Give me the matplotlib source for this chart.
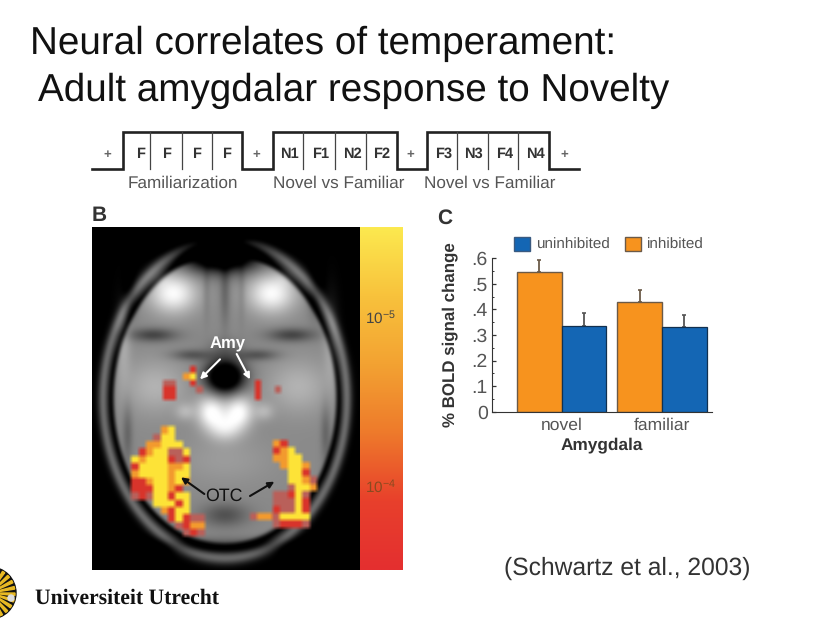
import numpy as np
import matplotlib
matplotlib.use('Agg')
import matplotlib.pyplot as plt
from matplotlib.colors import LinearSegmentedColormap, to_rgb
from matplotlib.patches import Patch, Wedge, Circle

plt.rcParams['font.family'] = ['Liberation Sans', 'DejaVu Sans']
plt.rcParams['mathtext.default'] = 'regular'
plt.rcParams['text.hinting'] = 'no_hinting'
plt.rcParams['text.hinting_factor'] = 8

# bar chart values
conditions = ['novel', 'familiar']
series_names = ['uninhibited', 'inhibited']
uninhibited = [0.335, 0.330]
inhibited = [0.545, 0.430]
uninhibited_err = [0.052, 0.048]
inhibited_err = [0.048, 0.046]
y_ticks = [0, 0.1, 0.2, 0.3, 0.4, 0.5, 0.6]
y_tick_labels = ['0', '.1', '.2', '.3', '.4', '.5', '.6']

# block design strip
block_labels = [['F', 'F', 'F', 'F'], ['N1', 'F1', 'N2', 'F2'], ['F3', 'N3', 'F4', 'N4']]
block_titles = ['Familiarization', 'Novel vs Familiar', 'Novel vs Familiar']

# activation cells: Y yellow, O orange, R red, D dim red
otc_left = ["....OY....", "...DYY....", "..OOYYY...", ".ROYYDDY..", "YOYYYRDR..",
            "RYYYYOOY..", "OYYYYOYY..", "RROYYOYO..", "RRRYYOR...", "DRDYYRYY..",
            "...YYYRY..", "....ORYY..", ".....RYRDD", "......DROO", ".......DRD"]
otc_right = ["OR....", "ROY...", "OOYY..", ".OYYO.", "..YYR.", "..YYOD",
             "..DYYO", "DDRYD.", "DDDYR.", "RDDYR.", "OYYYY.", "DRRRD."]
otc_low = ["DOOD"]
amy_left = ["....R.", "...OY.", "DD..R.", "RR...D", "RR...."]
amy_right = ["R...", "R..D", "R..."]
CELL_COLORS = {'Y': '#FDE338', 'O': '#F39A2E', 'R': '#D9342B', 'D': '#B9605A'}


def z(zx, zy):
    # brain zoom coords to figure pixels
    return 85 + zx / 3, 220 + zy / 3


def blob(X, Y, zx, zy, sx, sy, amp):
    cx, cy = z(zx, zy)
    return amp * np.exp(-((X - cx) / (sx / 3)) ** 2 - ((Y - cy) / (sy / 3)) ** 2)


def brain_image():
    xs = np.arange(92, 360) + 0.5
    ys = np.arange(227, 570) + 0.5
    X, Y = np.meshgrid(xs, ys)
    r = np.sqrt(((X - 225) / 129) ** 2 + ((Y - 399) / 168) ** 2)
    img = 0.54 / (1 + np.exp((r - 0.875) / 0.008))
    img += 0.44 * np.exp(-((r - 0.945) / 0.038) ** 2)
    img -= 0.30 * np.exp(-((r - 0.875) / 0.016) ** 2)
    # frontal lobes
    for zx, zy, sx, sy, amp in [(265, 220, 70, 58, 0.45), (560, 220, 70, 58, 0.45),
                                (225, 175, 30, 25, 0.08), (600, 175, 30, 25, 0.08),
                                (410, 105, 110, 48, -1.0), (410, 55, 80, 14, -0.25),
                                (420, 210, 14, 110, -0.15), (365, 210, 10, 90, -0.08), (470, 210, 10, 90, -0.08),
                                (135, 230, 22, 70, -0.14), (690, 230, 22, 70, -0.14),
                                # sphenoid ridges
                                (205, 345, 70, 20, -0.28), (620, 345, 70, 20, -0.28),
                                (320, 405, 60, 16, -0.22), (520, 405, 60, 16, -0.22),
                                # temporal lobes
                                (210, 500, 95, 80, 0.16), (640, 500, 95, 80, 0.16),
                                (115, 350, 22, 130, 0.14), (740, 350, 22, 130, 0.14),
                                # midbrain and brainstem
                                (420, 470, 55, 48, -0.95), (420, 385, 50, 30, -0.12),
                                (378, 575, 42, 48, 0.45), (462, 575, 42, 48, 0.45),
                                (420, 625, 48, 38, 0.3), (538, 575, 28, 25, 0.15), (300, 575, 28, 25, 0.15),
                                # cerebellum and occipital
                                (420, 720, 140, 70, 0.07), (420, 885, 70, 35, -0.22),
                                (420, 975, 280, 22, -0.18), (128, 640, 14, 90, -0.15), (722, 640, 14, 90, -0.15)]:
        img += blob(X, Y, zx, zy, sx, sy, amp)
    img = np.clip(img, 0, 1)
    rgb = np.dstack([img, img, img])

    def stamp(rows, zx0, zy0, zcell=22):
        for i, row in enumerate(rows):
            for j, c in enumerate(row):
                if c == '.':
                    continue
                x0, y0 = z(zx0 + j * zcell, zy0 + i * zcell)
                x1, y1 = z(zx0 + (j + 1) * zcell, zy0 + (i + 1) * zcell)
                rgb[int(y0) - 227:int(y1) - 227, int(x0) - 92:int(x1) - 92] = to_rgb(CELL_COLORS[c])

    stamp(otc_left, 140, 620)
    stamp(otc_right, 565, 660)
    stamp(otc_low, 495, 880)
    stamp(amy_left, 235, 440, 20)
    stamp(amy_right, 510, 480, 20)

    # scan looks soft in the slide
    kernel = np.array([0.15, 0.25, 0.2, 0.25, 0.15])
    for axis in (0, 1):
        rgb = np.apply_along_axis(lambda v: np.convolve(v, kernel, mode='same'), axis, rgb)
    return rgb


fig = plt.figure(figsize=(8.19, 6.18), dpi=100)
bg = fig.add_axes([0, 0, 1, 1])

bg.text(30, 44, 'Neural correlates of temperament:', fontsize=27.8, va='center', ha='left', color='#111111')
bg.text(38, 91, 'Adult amygdalar response to Novelty', fontsize=27.8, va='center', ha='left', color='#111111')

# block design strip
low, high = 169.3, 132
edges = [(123, 241.7), (273, 396.7), (426.7, 549)]
dividers = [[150, 182.3, 212.3], [303.3, 335, 365.7], [457.3, 488.3, 518.3]]
cell_x = [[140, 166.7, 196.7, 226.7], [289, 321, 352.7, 381.7], [443.3, 473.3, 504.3, 535]]
plus_x = [107.7, 256.7, 410.7, 564.3]
title_x = [183.3, 338.3, 490]
step_x = [92]
step_y = [low]
for a, b in edges:
    step_x += [a, a, b, b]
    step_y += [low, high, high, low]
step_x.append(579)
step_y.append(low)
bg.plot(step_x, step_y, color='#222222', lw=1.9, solid_joinstyle='miter')
for k in range(3):
    for dx in dividers[k]:
        bg.plot([dx, dx], [high, low], color='#444444', lw=0.9)
    for cx, lab in zip(cell_x[k], block_labels[k]):
        bg.text(cx, 154, lab, fontsize=10.5, fontweight='bold', color='#333333', ha='center', va='center')
    bg.text(title_x[k], 183.5, block_titles[k], fontsize=12.3, color='#555555', ha='center', va='center')
for px in plus_x:
    bg.text(px, 155, '+', fontsize=9.5, fontweight='bold', color='#666666', ha='center', va='center')

bg.text(92, 216, 'B', fontsize=15, fontweight='bold', color='#333333', ha='left', va='center')
bg.text(445, 218, 'C', fontsize=15, fontweight='bold', color='#333333', ha='center', va='center')

# brain panel and p value bar
bg.imshow(brain_image(), extent=[92, 360, 570, 227], interpolation='bilinear', aspect='auto', zorder=1)
heat = LinearSegmentedColormap.from_list('heat', ['#FCE94F', '#F8C23C', '#F3A232', '#EE7A2B', '#E8402C', '#E42F30'])
bg.imshow(np.linspace(0, 1, 256).reshape(-1, 1), cmap=heat, extent=[360, 403, 570, 227], aspect='auto', zorder=1)
bg.text(380, 318, r'$10^{-5}$', fontsize=11, color='#444444', ha='center', va='center', zorder=3)
bg.text(380, 487, r'$10^{-4}$', fontsize=11, color='#8a4a20', ha='center', va='center', zorder=3)

bg.text(228, 344, 'Amy', fontsize=12, fontweight='bold', color='white', ha='center', va='center', zorder=3)
bg.text(224, 496, 'OTC', fontsize=12.8, color='#111111', ha='center', va='center', zorder=3)
for start, end, col in [((405, 418), (345, 478), 'white'), ((455, 402), (495, 478), 'white'),
                        ((358, 822), (288, 772), '#111111'), ((495, 828), (568, 785), '#111111')]:
    bg.annotate('', xy=z(*end), xytext=z(*start), zorder=3,
                arrowprops=dict(arrowstyle='-|>', color=col, lw=1.5, mutation_scale=9, shrinkA=0, shrinkB=0))

bg.text(504, 568, '(Schwartz et al., 2003)', fontsize=17.7, color='#333333', ha='left', va='center')
bg.text(35, 598, 'Universiteit Utrecht', fontsize=15.6, fontweight='bold', family='Liberation Serif',
        color='#111111', ha='left', va='center')

# logo sun, cut off by the slide edge
bg.add_patch(Circle((-10, 593), 26, color='#111111', zorder=1))
for ang in np.arange(-90, 90, 15):
    bg.add_patch(Wedge((-10, 593), 25, ang, ang + 6, color='#E8B923', zorder=2))
bg.add_patch(Circle((11, 598), 3, color='#dddddd', zorder=2))

bg.set_xlim(0, 819)
bg.set_ylim(618, 0)
bg.axis('off')

# bar chart, axes placed in figure pixels
ax = fig.add_axes([492 / 819, (618 - 411.7) / 618, 220 / 819, 153.4 / 618])
ax.patch.set_alpha(0)
gap = 100.3 / 44.7
pos = np.arange(len(conditions)) * gap
ax.bar(pos - 0.5, inhibited, width=1, color='#F7931E', edgecolor='#6b5a48', lw=1.0, zorder=2)
ax.bar(pos + 0.5, uninhibited, width=1, color='#1466B4', edgecolor='#12304f', lw=0.9, zorder=2)
for xs, vals, errs, ecol in [(pos - 0.5, inhibited, inhibited_err, '#6b5a48'),
                             (pos + 0.5, uninhibited, uninhibited_err, '#555555')]:
    ax.errorbar(xs, vals, yerr=[np.zeros(len(errs)), errs], fmt='none', ecolor=ecol,
                elinewidth=1.3, capsize=1.5, capthick=1.2, zorder=1)
ax.set_xlim(-69.7 / 44.7, 150.3 / 44.7)
ax.set_ylim(0, 0.6)
ax.set_yticks(y_ticks)
ax.set_yticklabels(y_tick_labels, fontsize=14, color='#555555')
ax.set_yticks(np.arange(0.05, 0.6, 0.1), minor=True)
ax.tick_params(axis='y', which='major', direction='in', length=3, width=0.9, color='#333333', pad=3)
ax.tick_params(axis='y', which='minor', direction='in', length=1.5, width=0.7, color='#333333')
ax.set_xticks(pos)
ax.set_xticklabels(conditions, fontsize=12.6, color='#555555')
ax.tick_params(axis='x', length=0, pad=4)
ax.set_xlabel('Amygdala', fontsize=12.4, fontweight='bold', color='#333333', labelpad=3)
ax.set_ylabel('% BOLD signal change', fontsize=12.2, fontweight='bold', color='#333333', labelpad=10)
ax.spines['top'].set_visible(False)
ax.spines['right'].set_visible(False)
ax.spines['left'].set_color('#333333')
ax.spines['bottom'].set_color('#333333')
ax.legend(handles=[Patch(facecolor='#1466B4', edgecolor='#3a5a80', label=series_names[0]),
                   Patch(facecolor='#F7931E', edgecolor='#6b5a48', label=series_names[1])],
          ncol=2, frameon=False, fontsize=11, labelcolor='#555555', handlelength=1.05, handleheight=1.05,
          handletextpad=0.4, columnspacing=1.0, loc='lower left', bbox_to_anchor=(0.1, 1.041), borderpad=0, borderaxespad=0)

fig.savefig('out.png', dpi=100)
